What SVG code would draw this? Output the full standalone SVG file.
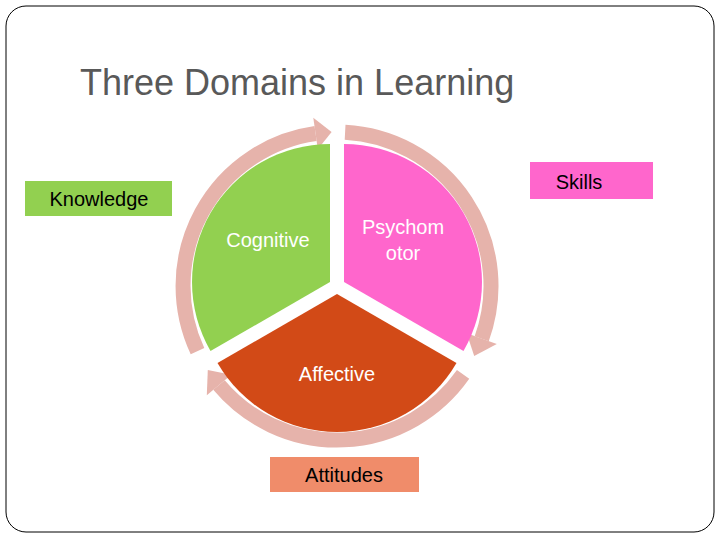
<svg xmlns="http://www.w3.org/2000/svg" width="720" height="540" viewBox="0 0 720 540">
<style>
text{font-family:"Liberation Sans",Arial,sans-serif}
.w{fill:#fff;font-size:20px}
.k{fill:#000;font-size:20px}
.ring{fill:none;stroke:#E6B3AB;stroke-width:15}
.head{fill:#E6B3AB}
</style>
<rect x="0" y="0" width="720" height="540" fill="#fff"/>
<rect x="6" y="6" width="708" height="526" rx="20" fill="#fff" stroke="#000" stroke-width="1"/>
<text x="80" y="95" font-size="36" fill="#595959">Three Domains in Learning</text>
<g id="connectors">
<path class="ring" d="M197.5,351.1 A154,154 0 0 1 315.6,133.5"/>
<polygon class="head" points="317.8,149.3 313.3,117.7 331.6,132.1"/>
<path class="ring" d="M345.1,132.2 A154,154 0 0 1 481.7,338.7"/>
<polygon class="head" points="466.7,333.2 496.8,344.1 474.2,355.9"/>
<path class="ring" d="M463.1,374.4 A154,154 0 0 1 219.0,385.0"/>
<polygon class="head" points="231.3,374.7 206.8,395.3 207.8,369.9"/>
</g>
<g id="cognitive">
<path d="M330,282 L330,144 A138,138 0 0 0 210.5,351 Z" fill="#92D050"/>
<text class="w" x="268" y="247" text-anchor="middle">Cognitive</text>
</g>
<g id="psychomotor">
<path d="M344,282 L344,144 A138,138 0 0 1 463.5,351 Z" fill="#FF66CC"/>
<text class="w" x="403" y="234" text-anchor="middle">Psychom</text>
<text class="w" x="403" y="260" text-anchor="middle">otor</text>
</g>
<g id="affective">
<path d="M337,294 L456.5,363 A138,138 0 0 1 217.5,363 Z" fill="#D24A17"/>
<text class="w" x="337" y="381" text-anchor="middle">Affective</text>
</g>
<g id="knowledge">
<rect x="25" y="181" width="147" height="35" fill="#92D050"/>
<text class="k" x="99" y="206" text-anchor="middle">Knowledge</text>
</g>
<g id="skills">
<rect x="530" y="162" width="123" height="37" fill="#FF66CC"/>
<text class="k" x="579" y="189" text-anchor="middle">Skills</text>
</g>
<g id="attitudes">
<rect x="270" y="457" width="149" height="35" fill="#F08C6A"/>
<text class="k" x="344" y="482" text-anchor="middle">Attitudes</text>
</g>
</svg>
